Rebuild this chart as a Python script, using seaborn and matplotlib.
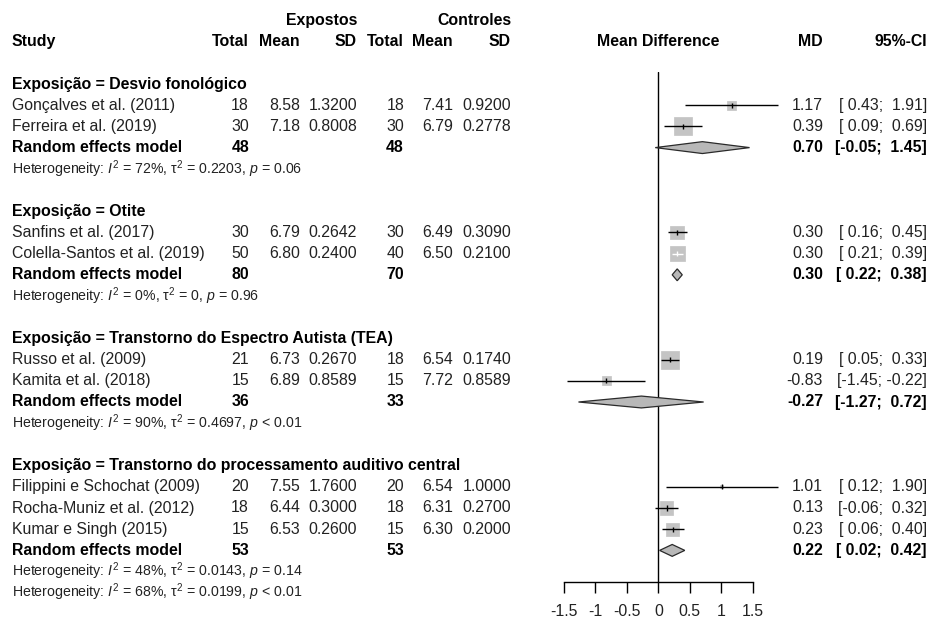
import numpy as np
import pandas as pd
import matplotlib
matplotlib.use("Agg")
import matplotlib.pyplot as plt
import matplotlib.transforms as mtransforms
import seaborn as sns

# ---------------- data ----------------
group_names = ["Desvio fonológico", "Otite",
               "Transtorno do Espectro Autista (TEA)",
               "Transtorno do processamento auditivo central"]
study = ["Gonçalves et al. (2011)", "Ferreira et al. (2019)",
         "Sanfins et al. (2017)", "Colella-Santos et al. (2019)",
         "Russo et al. (2009)", "Kamita et al. (2018)",
         "Filippini e Schochat (2009)", "Rocha-Muniz et al. (2012)",
         "Kumar e Singh (2015)"]
study_group = [0, 0, 1, 1, 2, 2, 3, 3, 3]
exp_total = [18, 30, 30, 50, 21, 15, 20, 18, 15]
exp_mean = [8.58, 7.18, 6.79, 6.80, 6.73, 6.89, 7.55, 6.44, 6.53]
exp_sd = [1.3200, 0.8008, 0.2642, 0.2400, 0.2670, 0.8589, 1.7600, 0.3000, 0.2600]
ctrl_total = [18, 30, 30, 40, 18, 15, 20, 18, 15]
ctrl_mean = [7.41, 6.79, 6.49, 6.50, 6.54, 7.72, 6.54, 6.31, 6.30]
ctrl_sd = [0.9200, 0.2778, 0.3090, 0.2100, 0.1740, 0.8589, 1.0000, 0.2700, 0.2000]
md = [1.17, 0.39, 0.30, 0.30, 0.19, -0.83, 1.01, 0.13, 0.23]
ci_lo = [0.43, 0.09, 0.16, 0.21, 0.05, -1.45, 0.12, -0.06, 0.06]
ci_hi = [1.91, 0.69, 0.45, 0.39, 0.33, -0.22, 1.90, 0.32, 0.40]
weight = [5.2, 20.7, 11.6, 14.4, 20.7, 5.2, 0.6, 10.8, 10.8]

pooled_exp_total = [48, 80, 36, 53]
pooled_ctrl_total = [48, 70, 33, 53]
pooled_md = [0.70, 0.30, -0.27, 0.22]
pooled_lo = [-0.05, 0.22, -1.27, 0.02]
pooled_hi = [1.45, 0.38, 0.72, 0.42]
het_i2 = ["72%", "0%", "90%", "48%"]
het_tau2 = ["0.2203", "0", "0.4697", "0.0143"]
het_p = ["= 0.06", "= 0.96", "< 0.01", "= 0.14"]
overall_i2 = "68%"
overall_tau2 = "0.0199"
overall_p = "< 0.01"

tick_values = [-1.5, -1, -0.5, 0, 0.5, 1, 1.5]
tick_labels = ["-1.5", "-1", "-0.5", "0", "0.5", "1", "1.5"]

# ---------------- style ----------------
sns.set_theme(style="white")
plt.rcParams['font.family'] = ['Liberation Sans', 'DejaVu Sans']
plt.rcParams['mathtext.fontset'] = 'custom'
plt.rcParams['mathtext.rm'] = 'Liberation Sans'
plt.rcParams['mathtext.it'] = 'Liberation Sans:italic'
plt.rcParams['mathtext.bf'] = 'Liberation Sans:bold'

W, H = 931, 621
FS = 11.4
FS_HET = 10.2
TXT = '#222222'

fig = plt.figure(figsize=(W / 100, H / 100), dpi=100)
fig.patch.set_facecolor('white')

# forest axes geometry (pixels)
x_left, x_right = 564.0, 752.7
y_top, y_bot = 72.0, 582.0
ax = fig.add_axes([x_left / W, 1 - y_bot / H, (x_right - x_left) / W, (y_bot - y_top) / H])
ax.set_facecolor('none')

# ---------------- row layout ----------------
head_rows, study_rows, pooled_rows, het_rows = [], [0] * len(study), [], []
r = 0
for g in range(len(group_names)):
    head_rows.append(r); r += 1
    for i, sg in enumerate(study_group):
        if sg == g:
            study_rows[i] = r; r += 1
    pooled_rows.append(r); r += 1
    het_rows.append(r); r += 2
overall_het_row = het_rows[-1] + 0.95

row_h = 21.2
ax.set_xlim(-1.5, 1.5)
ax.set_ylim((y_bot - 84) / row_h, -(84 - y_top) / row_h)

# ---------------- forest marks ----------------
px_per_unit = (x_right - x_left) / 3.0
side_px = [3.956 * np.sqrt(w) for w in weight]
side_pt = np.array(side_px) * 0.72
df = pd.DataFrame({"md": md, "row": study_rows, "lo": ci_lo, "hi": ci_hi})
line_cols = ['white' if (h - l) * px_per_unit < 0.85 * s else 'black'
             for l, h, s in zip(ci_lo, ci_hi, side_px)]

ax.axvline(0, color='black', lw=1.0, zorder=1)
sns.scatterplot(data=df, x="md", y="row", s=side_pt ** 2, marker='s',
                color='#c4c4c4', edgecolor='#c4c4c4', linewidth=0.5,
                ax=ax, legend=False, zorder=2, clip_on=False)
ax.hlines(df["row"], df["lo"], df["hi"], colors=line_cols, lw=1.0, zorder=3, clip_on=False)
ax.scatter(df["md"], df["row"], marker='|', s=14, c=line_cols, linewidths=1.0,
           zorder=4, clip_on=False)

dh = 0.28
for g in range(len(group_names)):
    rr = pooled_rows[g]
    ax.fill([pooled_lo[g], pooled_md[g], pooled_hi[g], pooled_md[g]],
            [rr, rr - dh, rr, rr + dh], facecolor='#b8b8b8',
            edgecolor='#2a2a2a', lw=0.9, zorder=3, clip_on=False)

for s in ['left', 'top', 'right']:
    ax.spines[s].set_visible(False)
ax.spines['bottom'].set_color('black')
ax.spines['bottom'].set_linewidth(1.0)
ax.set_yticks([])
ax.set_xticks(tick_values)
ax.set_xticklabels(tick_labels)
ax.tick_params(axis='x', direction='out', length=8, width=1.0, color='black',
               labelsize=FS, labelcolor=TXT, pad=8, bottom=True)
ax.set_xlabel("")
ax.set_ylabel("")

# ---------------- text columns ----------------
tr = mtransforms.blended_transform_factory(fig.transFigure, ax.transData)
def t(xpx, y, s, ha='right', bold=False, size=FS, color=TXT):
    fig.text(xpx / W, y, s, transform=tr, ha=ha, va='center', fontsize=size,
             fontweight='bold' if bold else 'normal', color=color)

X_STUDY, X_ET, X_EM, X_ESD, X_CT, X_CM, X_CSD, X_MD, X_CI = 12, 249, 300, 357, 404, 453, 511, 823, 927

# headers
t(X_ESD, -3, "Expostos", bold=True, color='black')
t(X_CSD, -3, "Controles", bold=True, color='black')
t(X_STUDY, -2, "Study", ha='left', bold=True, color='black')
for xx, lab in [(X_ET, "Total"), (X_EM, "Mean"), (X_ESD, "SD"),
                (X_CT, "Total"), (X_CM, "Mean"), (X_CSD, "SD"),
                (X_MD, "MD"), (X_CI, "95%-CI")]:
    t(xx, -2, lab, bold=True, color='black')
ax.text(0, -2, "Mean Difference", ha='center', va='center', fontsize=FS,
        fontweight='bold', color='black', clip_on=False)

def ci_str(lo, hi):
    return f"[{lo:5.2f}; {hi:5.2f}]"

def het_str(i2, tau2, p):
    return (r"Heterogeneity: $\mathit{I}^{2}$ = " + i2 +
            r", $\mathrm{\tau}^{2}$ = " + tau2 + r", $\mathit{p}$ " + p)

for g in range(len(group_names)):
    t(X_STUDY, head_rows[g], f"Exposição = {group_names[g]}", ha='left', bold=True, color='black')
    t(X_STUDY, pooled_rows[g], "Random effects model", ha='left', bold=True, color='black')
    t(X_ET, pooled_rows[g], f"{pooled_exp_total[g]}", bold=True, color='black')
    t(X_CT, pooled_rows[g], f"{pooled_ctrl_total[g]}", bold=True, color='black')
    t(X_MD, pooled_rows[g], f"{pooled_md[g]:.2f}", bold=True, color='black')
    t(X_CI, pooled_rows[g], ci_str(pooled_lo[g], pooled_hi[g]), bold=True, color='black')
    t(X_STUDY, het_rows[g], het_str(het_i2[g], het_tau2[g], het_p[g]), ha='left', size=FS_HET)

t(X_STUDY, overall_het_row, het_str(overall_i2, overall_tau2, overall_p), ha='left', size=FS_HET)

for i in range(len(study)):
    rr = study_rows[i]
    t(X_STUDY, rr, study[i], ha='left')
    t(X_ET, rr, f"{exp_total[i]}")
    t(X_EM, rr, f"{exp_mean[i]:.2f}")
    t(X_ESD, rr, f"{exp_sd[i]:.4f}")
    t(X_CT, rr, f"{ctrl_total[i]}")
    t(X_CM, rr, f"{ctrl_mean[i]:.2f}")
    t(X_CSD, rr, f"{ctrl_sd[i]:.4f}")
    t(X_MD, rr, f"{md[i]:.2f}")
    t(X_CI, rr, ci_str(ci_lo[i], ci_hi[i]))

fig.savefig("out.png", dpi=100, facecolor='white')
